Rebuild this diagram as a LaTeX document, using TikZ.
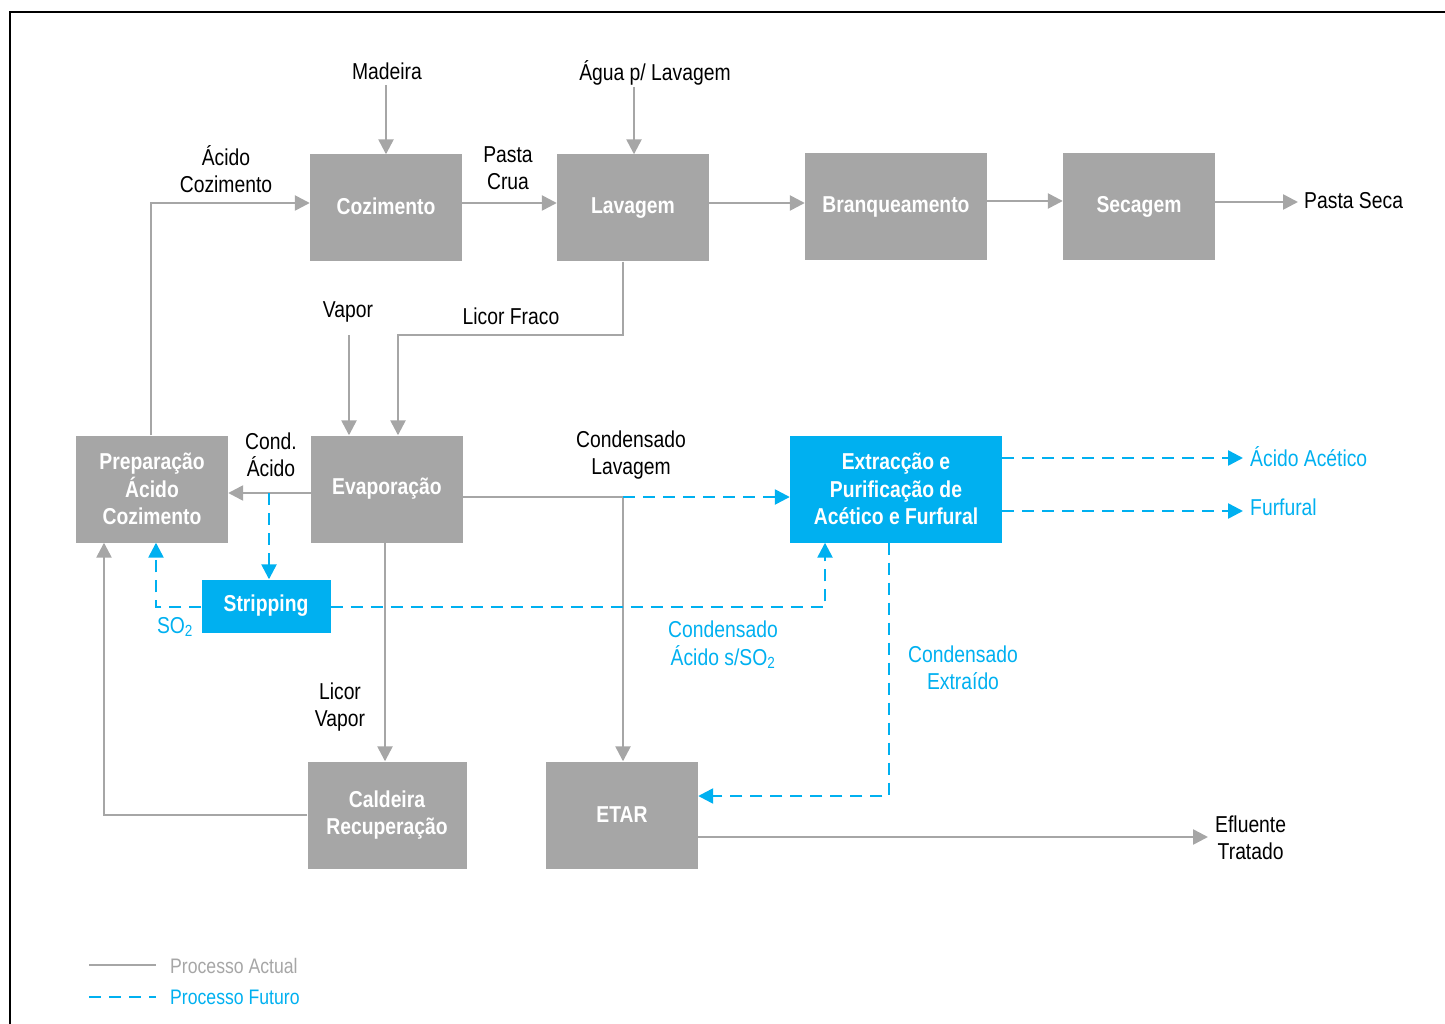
\documentclass[tikz,border=0pt]{standalone}
\usepackage{fontspec}
\setmainfont[FakeStretch=0.84]{Liberation Sans}
\usetikzlibrary{arrows.meta}
\definecolor{boxgray}{HTML}{A6A6A6}
\definecolor{linegray}{HTML}{A6A6A6}
\definecolor{cyanb}{HTML}{00B0F0}
\tikzset{
  proc/.style={fill=boxgray, text=white, font=\fontsize{23}{27.5}\selectfont\bfseries, align=center, inner sep=0pt},
  fut/.style={fill=cyanb, text=white, font=\fontsize{23}{27.5}\selectfont\bfseries, align=center, inner sep=0pt},
  lbl/.style={font=\fontsize{23}{27.5}\selectfont, align=center, inner sep=0pt, text=black},
  blbl/.style={font=\fontsize{23}{27.5}\selectfont, align=center, inner sep=0pt, text=cyanb},
  act/.style={draw=linegray, line width=2.5pt, -{Triangle[length=15pt,width=15pt]}},
  actn/.style={draw=linegray, line width=2.5pt},
  futa/.style={draw=cyanb, line width=2.5pt, dash pattern=on 12pt off 8pt, -{Triangle[length=15pt,width=15pt]}},
  futn/.style={draw=cyanb, line width=2.5pt, dash pattern=on 12pt off 8pt},
}
\begin{document}
\begin{tikzpicture}[x=1pt,y=-1pt]
\useasboundingbox (0,0) rectangle (1445,1024);
% frame
\draw[black, line width=2pt] (10,1030) -- (10,12) -- (1450,12);

% process boxes
\node[proc, minimum width=152pt, minimum height=107pt] (coz) at (386,208) {\raisebox{3pt}{Cozimento}};
\node[proc, minimum width=152pt, minimum height=107pt] (lav) at (633,208) {Lavagem};
\node[proc, minimum width=182pt, minimum height=107pt] (bra) at (896,207) {Branqueamento};
\node[proc, minimum width=152pt, minimum height=107pt] (sec) at (1139,207) {Secagem};
\node[proc, minimum width=152pt, minimum height=107pt] (prep) at (152,489) {Preparação\\Ácido\\Cozimento};
\node[proc, minimum width=152pt, minimum height=107pt] (evap) at (387,489) {Evaporação};
\node[fut, minimum width=212pt, minimum height=107pt] (ext) at (896,489) {Extracção e\\Purificação de\\Acético e Furfural};
\node[fut, minimum width=129pt, minimum height=53pt] (strip) at (266,606) {Stripping};
\node[proc, minimum width=159pt, minimum height=107pt] (cald) at (387,815) {Caldeira\\Recuperação};
\node[proc, minimum width=152pt, minimum height=107pt] (etar) at (622,815) {ETAR};

% text labels / terminals
\node[lbl] (mad) at (387,71) {Madeira};
\node[lbl] (agua) at (655,73) {Água p/ Lavagem};
\node[lbl] (pcrua) at (508,168) {Pasta\\Crua};
\node[lbl] (acoz) at (226,169) {Ácido\\Cozimento};
\node[lbl, anchor=west] (pseca) at (1304,201) {Pasta Seca};
\node[lbl] (vapor) at (348,312) {Vapor};
\node[lbl] (lfraco) at (511,316) {Licor Fraco};
\node[lbl] (cacido) at (271,455) {Cond.\\Ácido};
\node[lbl] (clav) at (631,455) {Condensado\\Lavagem};
\node[lbl] (lvapor) at (340,707) {Licor\\Vapor};
\node[lbl, anchor=west] (eflu) at (1215,838) {Efluente\\Tratado};
\node[blbl, anchor=west] (aac) at (1250,457) {Ácido Acético};
\node[blbl, anchor=west] (furf) at (1250,507) {Furfural};
\node[blbl] (so2) at (175,627) {SO\textsubscript{2}};
\node[blbl] (cas) at (723,645) {Condensado\\Ácido s/SO\textsubscript{2}};
\node[blbl] (cext) at (963,668) {Condensado\\Extraído};

% coordinates for free ends
\coordinate (madE) at (386,85);
\coordinate (aguaE) at (634,87);
\coordinate (vapE) at (349,335);
\coordinate (psE) at (1298,202);
\coordinate (efE) at (1208,837);
\coordinate (aacE) at (1243,458);
\coordinate (furE) at (1243,511);
\coordinate (split) at (623,497);

% actual process connectors
\draw[act] (madE) -- (coz.north);
\draw[act] (aguaE) -- (lav.north -| aguaE);
\draw[act] (coz.east |- 0,203) -- (lav.west |- 0,203);
\draw[act] (lav.east |- 0,203) -- (bra.west |- 0,203);
\draw[act] (bra.east |- 0,201) -- (sec.west |- 0,201);
\draw[act] (sec.east |- 0,202) -- (psE);
\draw[act] (prep.north -| 151,0) -- (151,203) -- (coz.west |- 0,203);
\draw[act] (lav.south -| 623,0) -- (623,335) -- (398,335) -- (evap.north -| 398,0);
\draw[act] (vapE) -- (evap.north -| vapE);
\draw[act] (evap.west |- 0,493) -- (prep.east |- 0,493);
\draw[actn] (evap.east |- 0,497) -- (split);
\draw[act] (split) -- (etar.north -| split);
\draw[act] (evap.south -| 385,0) -- (cald.north -| 385,0);
\draw[act] (cald.west) -- (104,815) -- (prep.south -| 104,0);
\draw[act] (etar.east |- efE) -- (efE);

% future process connectors
\draw[futa] (269,493) -- (strip.north -| 269,0);
\draw[futa] (strip.west |- 0,607) -- (156,607) -- (prep.south -| 156,0);
\draw[futa] (strip.east |- 0,607) -- (825,607) -- (ext.south -| 825,0);
\draw[futa] (split) -- (ext.west |- split);
\draw[futa] (ext.south -| 889,0) -- (889,796) -- (etar.east |- 0,796);
\draw[futa] (ext.east |- aacE) -- (aacE);
\draw[futa] (ext.east |- furE) -- (furE);

% legend
\coordinate (l1a) at (89,965);
\coordinate (l1b) at (156,965);
\coordinate (l2a) at (89,997);
\coordinate (l2b) at (156,997);
\draw[actn] (l1a) -- (l1b);
\draw[futn] (l2a) -- (l2b);
\node[lbl, anchor=west, text=linegray, font=\fontsize{21}{25}\selectfont] (leg1) at (170,966) {Processo Actual};
\node[blbl, anchor=west, font=\fontsize{21}{25}\selectfont] (leg2) at (170,997) {Processo Futuro};
\end{tikzpicture}
\end{document}
